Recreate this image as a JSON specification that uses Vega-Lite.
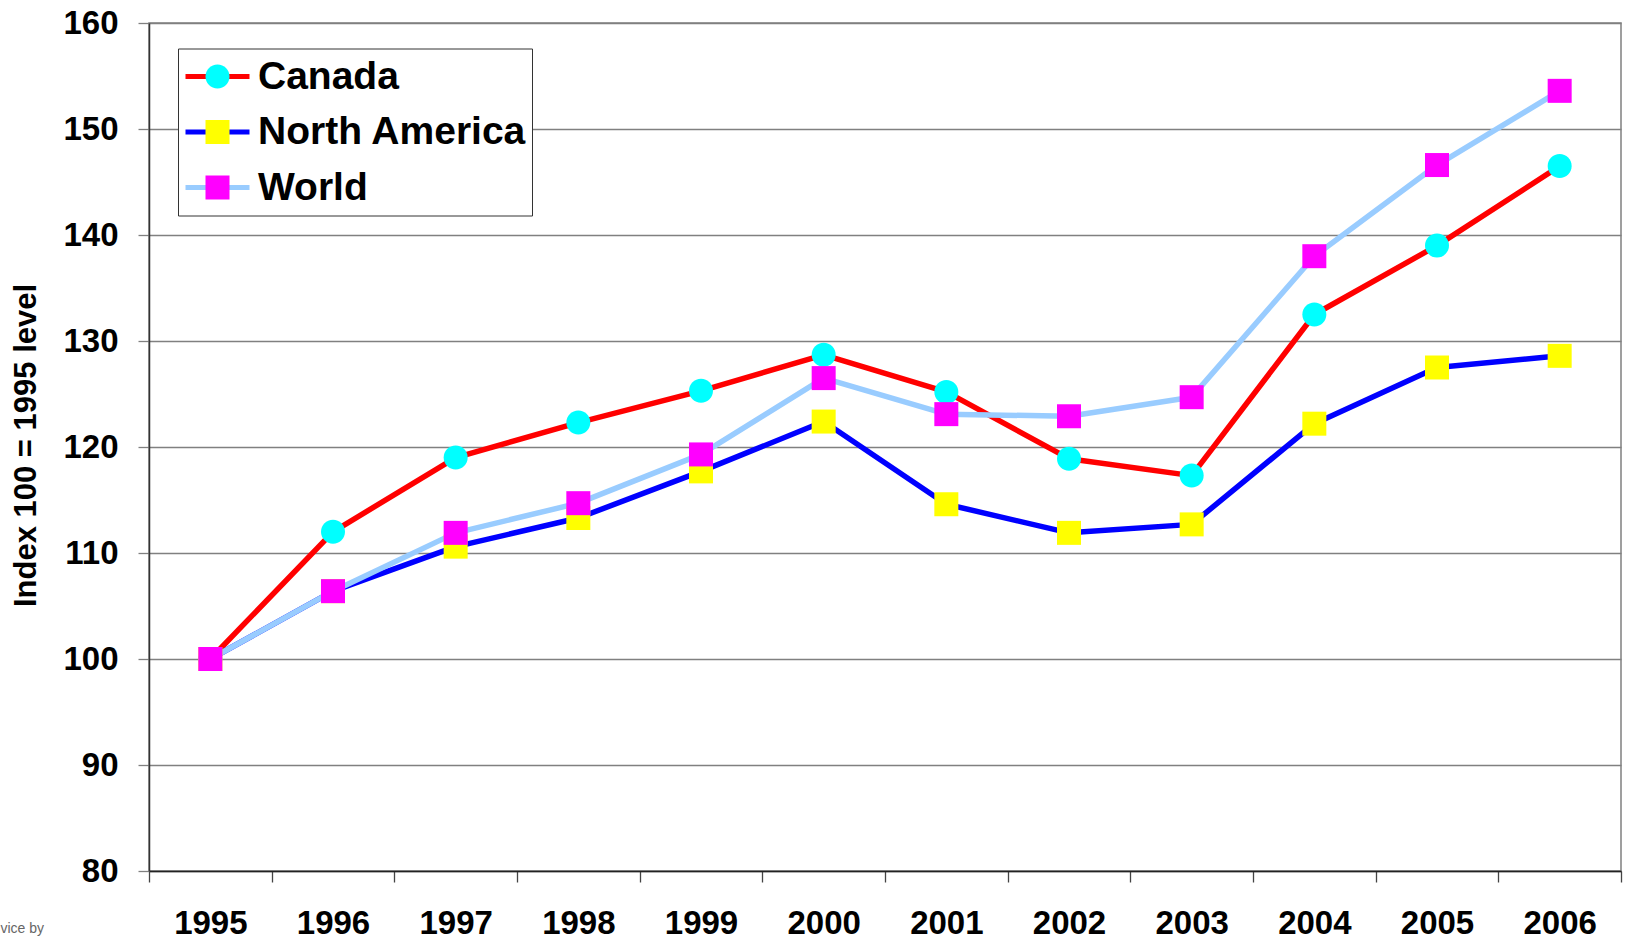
{
  "$schema": "https://vega.github.io/schema/vega-lite/v6.json",
  "autosize": {"type": "none"},
  "padding": {"left": 149, "top": 23, "right": 4, "bottom": 68},
  "width": 1472,
  "height": 848,
  "background": "white",
  "config": {
    "font": "Liberation Sans",
    "view": {"stroke": "#808080", "strokeWidth": 1.5},
    "axis": {
      "labelFont": "Liberation Sans",
      "labelFontWeight": "bold",
      "labelColor": "black",
      "labelFontSize": 33,
      "domainColor": "#333333",
      "domainWidth": 1.5,
      "tickColor": "#444444",
      "tickWidth": 1.3,
      "tickSize": 11,
      "titleFont": "Liberation Sans"
    },
    "legend": {
      "labelFont": "Liberation Sans"
    }
  },
  "data": {
    "values": [
      {"year": "1995", "series": "Canada", "value": 100},
      {"year": "1996", "series": "Canada", "value": 112.0},
      {"year": "1997", "series": "Canada", "value": 119.0},
      {"year": "1998", "series": "Canada", "value": 122.3},
      {"year": "1999", "series": "Canada", "value": 125.3},
      {"year": "2000", "series": "Canada", "value": 128.7},
      {"year": "2001", "series": "Canada", "value": 125.2},
      {"year": "2002", "series": "Canada", "value": 118.9},
      {"year": "2003", "series": "Canada", "value": 117.3},
      {"year": "2004", "series": "Canada", "value": 132.5},
      {"year": "2005", "series": "Canada", "value": 139.0},
      {"year": "2006", "series": "Canada", "value": 146.5},
      {"year": "1995", "series": "North America", "value": 100},
      {"year": "1996", "series": "North America", "value": 106.4},
      {"year": "1997", "series": "North America", "value": 110.6},
      {"year": "1998", "series": "North America", "value": 113.3},
      {"year": "1999", "series": "North America", "value": 117.7},
      {"year": "2000", "series": "North America", "value": 122.4},
      {"year": "2001", "series": "North America", "value": 114.6},
      {"year": "2002", "series": "North America", "value": 111.9},
      {"year": "2003", "series": "North America", "value": 112.7},
      {"year": "2004", "series": "North America", "value": 122.2},
      {"year": "2005", "series": "North America", "value": 127.5},
      {"year": "2006", "series": "North America", "value": 128.6},
      {"year": "1995", "series": "World", "value": 100},
      {"year": "1996", "series": "World", "value": 106.4},
      {"year": "1997", "series": "World", "value": 111.9},
      {"year": "1998", "series": "World", "value": 114.7},
      {"year": "1999", "series": "World", "value": 119.3},
      {"year": "2000", "series": "World", "value": 126.5},
      {"year": "2001", "series": "World", "value": 123.1},
      {"year": "2002", "series": "World", "value": 122.9},
      {"year": "2003", "series": "World", "value": 124.7},
      {"year": "2004", "series": "World", "value": 138.0},
      {"year": "2005", "series": "World", "value": 146.6},
      {"year": "2006", "series": "World", "value": 153.6}
    ]
  },
  "encoding": {
    "x": {
      "field": "year",
      "type": "ordinal",
      "scale": {"type": "band", "paddingInner": 0, "paddingOuter": 0},
      "axis": {
        "tickBand": "extent",
        "labelAngle": 0,
        "labelPadding": 25,
        "grid": false,
        "domainColor": "#222222",
        "title": "vice by",
        "titleX": -149,
        "titleY": 61,
        "titleAlign": "left",
        "titleAnchor": null,
        "titleBaseline": "alphabetic",
        "titleFontSize": 14,
        "titleFontWeight": "normal",
        "titleColor": "#666666"
      }
    },
    "y": {
      "field": "value",
      "type": "quantitative",
      "scale": {"domain": [80, 160], "nice": false, "zero": false},
      "axis": {
        "values": [80, 90, 100, 110, 120, 130, 140, 150, 160],
        "grid": true,
        "gridColor": "#808080",
        "gridWidth": 1.3,
        "tickColor": "#808080",
        "labelPadding": 20,
        "title": "Index 100 = 1995 level",
        "titleFontSize": 31,
        "titleFontWeight": "bold",
        "titleColor": "black",
        "titleX": -114,
        "titleY": 422,
        "titleBaseline": "alphabetic"
      }
    }
  },
  "layer": [
    {
      "mark": {"type": "line", "strokeWidth": 5.5, "strokeJoin": "round", "strokeCap": "round"},
      "encoding": {
        "color": {
          "field": "series",
          "type": "nominal",
          "scale": {"domain": ["Canada", "North America", "World"], "range": ["#ff0000", "#0000ff", "#99ccff"]},
          "legend": {
            "orient": "none",
            "legendX": 29,
            "legendY": 25.5,
            "direction": "vertical",
            "columns": 1,
            "title": null,
            "symbolType": "stroke",
            "symbolSize": 4096,
            "symbolStrokeWidth": 5,
            "clipHeight": 46,
            "rowPadding": 9.5,
            "padding": 5,
            "labelOffset": 6,
            "labelFontSize": 39,
            "labelFontWeight": "bold",
            "labelColor": "black",
            "labelLimit": 600,
            "fillColor": "white",
            "strokeColor": "#333333",
            "cornerRadius": 0,
            "zindex": 1
          }
        }
      }
    },
    {
      "mark": {"type": "point", "filled": true, "size": 576, "opacity": 1, "strokeWidth": 0},
      "encoding": {
        "fill": {
          "field": "series",
          "type": "nominal",
          "scale": {"range": ["#00ffff", "#ffff00", "#ff00ff"]},
          "legend": {
            "orient": "none",
            "legendX": 44,
            "legendY": 25.5,
            "direction": "vertical",
            "columns": 1,
            "title": null,
            "symbolSize": 576,
            "symbolStrokeWidth": 0,
            "symbolOpacity": 1,
            "clipHeight": 46,
            "rowPadding": 9.5,
            "padding": 5,
            "labelOffset": 6,
            "labelFontSize": 39,
            "labelFontWeight": "bold",
            "labelExpr": "''",
            "labelLimit": 600,
            "zindex": 2
          }
        },
        "shape": {
          "field": "series",
          "type": "nominal",
          "scale": {"range": ["M-1,0A1,1 0 1,1 1,0A1,1 0 1,1 -1,0Z", "square", "square"]},
          "legend": {
            "orient": "none",
            "legendX": 44,
            "legendY": 25.5,
            "direction": "vertical",
            "columns": 1,
            "title": null,
            "symbolSize": 576,
            "symbolStrokeWidth": 0,
            "symbolOpacity": 1,
            "clipHeight": 46,
            "rowPadding": 9.5,
            "padding": 5,
            "labelOffset": 6,
            "labelFontSize": 39,
            "labelFontWeight": "bold",
            "labelExpr": "''",
            "labelLimit": 600,
            "zindex": 2
          }
        }
      }
    }
  ]
}
